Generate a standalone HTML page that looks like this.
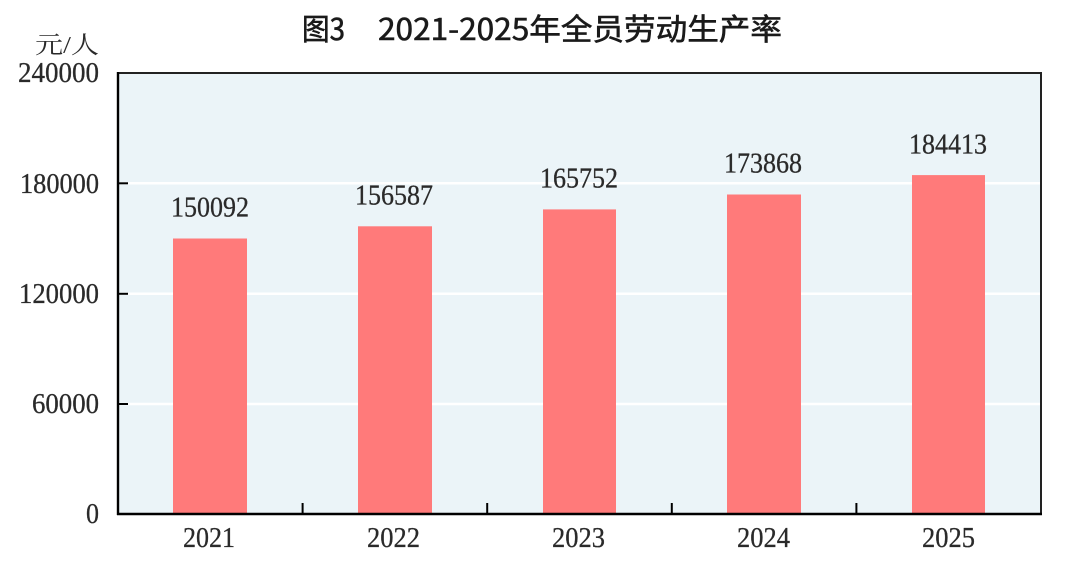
<!DOCTYPE html>
<html><head><meta charset="utf-8"><style>
html,body{margin:0;padding:0;background:#fff;}
svg{display:block;}
</style></head><body>
<svg width="1080" height="568" viewBox="0 0 1080 568" xmlns="http://www.w3.org/2000/svg">
<rect x="0" y="0" width="1080" height="568" fill="#ffffff"/>
<!-- title -->
<g font-family="'Noto Sans CJK SC','WenQuanYi Zen Hei',sans-serif" font-weight="normal" fill="#1a1a1a" stroke="#1a1a1a" stroke-width="0.6" font-size="30">
<text x="302" y="40" textLength="43" lengthAdjust="spacingAndGlyphs">图3</text>
<text x="378" y="40" textLength="404" lengthAdjust="spacingAndGlyphs">2021-2025年全员劳动生产率</text>
</g>
<!-- plot bg -->
<rect x="118" y="73" width="923" height="441" fill="#EBF4F8"/>
<!-- gridlines -->
<g stroke="#ffffff" stroke-width="2.5">
<line x1="119" y1="183.3" x2="1040" y2="183.3"/>
<line x1="119" y1="293.8" x2="1040" y2="293.8"/>
<line x1="119" y1="404" x2="1040" y2="404"/>
</g>
<!-- bars -->
<g fill="#FF7A7A">
<rect x="173" y="238.5" width="74" height="275.5"/>
<rect x="358" y="226.3" width="74" height="287.7"/>
<rect x="543" y="209.4" width="73" height="304.6"/>
<rect x="727" y="194.5" width="74" height="319.5"/>
<rect x="912" y="175.1" width="73" height="338.9"/>
</g>
<!-- frame -->
<line x1="118" y1="73" x2="1041" y2="73" stroke="#222" stroke-width="2"/>
<line x1="1041" y1="72" x2="1041" y2="514" stroke="#222" stroke-width="2"/>
<line x1="118" y1="72" x2="118" y2="515" stroke="#000" stroke-width="2.4"/>
<line x1="117" y1="514" x2="1042" y2="514" stroke="#000" stroke-width="2.4"/>
<!-- ticks -->
<g stroke="#000" stroke-width="2">
<line x1="118" y1="183.3" x2="128" y2="183.3"/>
<line x1="118" y1="293.8" x2="128" y2="293.8"/>
<line x1="118" y1="404" x2="128" y2="404"/>
<line x1="302.6" y1="503" x2="302.6" y2="514"/>
<line x1="487.2" y1="503" x2="487.2" y2="514"/>
<line x1="671.8" y1="503" x2="671.8" y2="514"/>
<line x1="856.4" y1="503" x2="856.4" y2="514"/>
</g>
<!-- y labels -->
<g font-family="'Liberation Serif',serif" font-size="29" fill="#2a2a2a" stroke="#2a2a2a" stroke-width="0.3" text-anchor="end">
<text x="99" y="82" textLength="81" lengthAdjust="spacingAndGlyphs">240000</text>
<text x="99" y="193" textLength="79" lengthAdjust="spacingAndGlyphs">180000</text>
<text x="99" y="303" textLength="80" lengthAdjust="spacingAndGlyphs">120000</text>
<text x="99" y="413" textLength="67" lengthAdjust="spacingAndGlyphs">60000</text>
<text x="99" y="523" textLength="13" lengthAdjust="spacingAndGlyphs">0</text>
</g>
<text x="35" y="53" font-family="'Liberation Serif','Noto Serif CJK SC',serif" font-size="24" fill="#2a2a2a" textLength="64" lengthAdjust="spacingAndGlyphs">元/人</text>
<!-- value labels -->
<g font-family="'Liberation Serif',serif" font-size="29" fill="#2a2a2a" stroke="#2a2a2a" stroke-width="0.3">
<text x="171" y="216.5" textLength="78" lengthAdjust="spacingAndGlyphs">150092</text>
<text x="355" y="204.5" textLength="78" lengthAdjust="spacingAndGlyphs">156587</text>
<text x="540" y="187.5" textLength="78" lengthAdjust="spacingAndGlyphs">165752</text>
<text x="724" y="172.5" textLength="78" lengthAdjust="spacingAndGlyphs">173868</text>
<text x="909" y="153.5" textLength="78" lengthAdjust="spacingAndGlyphs">184413</text>
</g>
<!-- x labels -->
<g font-family="'Liberation Serif',serif" font-size="29" fill="#2a2a2a" stroke="#2a2a2a" stroke-width="0.3">
<text x="183" y="547" textLength="52" lengthAdjust="spacingAndGlyphs">2021</text>
<text x="367" y="547" textLength="53" lengthAdjust="spacingAndGlyphs">2022</text>
<text x="552" y="547" textLength="53" lengthAdjust="spacingAndGlyphs">2023</text>
<text x="737" y="547" textLength="53" lengthAdjust="spacingAndGlyphs">2024</text>
<text x="922" y="547" textLength="53" lengthAdjust="spacingAndGlyphs">2025</text>
</g>
</svg>
</body></html>
